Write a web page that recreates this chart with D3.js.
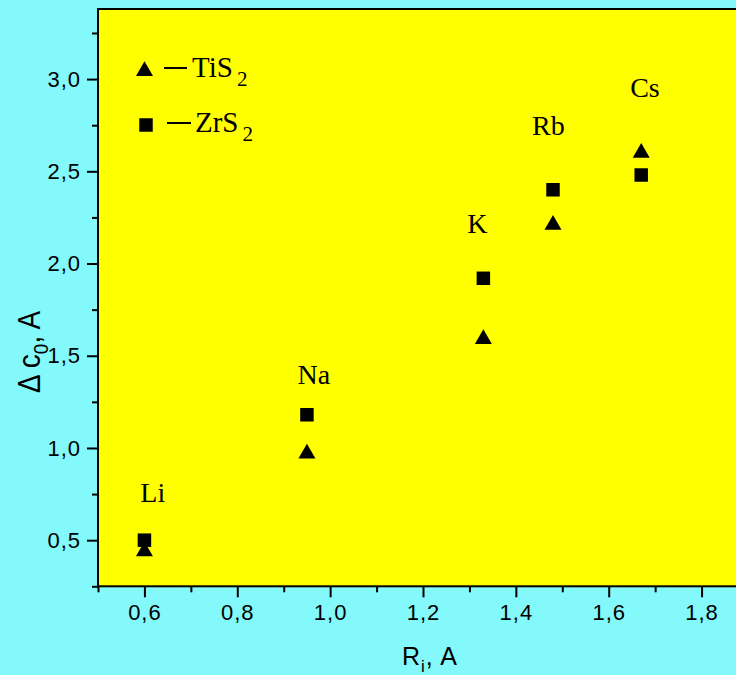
<!DOCTYPE html>
<html>
<head>
<meta charset="utf-8">
<script src="https://cdn.jsdelivr.net/npm/d3@7"></script>
<style>
  html, body { margin: 0; padding: 0; background: #84f9fb; }
  svg { display: block; }
</style>
</head>
<body>
<svg id="chart" width="736" height="675"></svg>
<script>
// Intercalant ionic radius vs. change of the c0 lattice parameter
const elements = ["Li", "Na", "K", "Rb", "Cs"];
const ionRadius = [0.60, 0.95, 1.33, 1.48, 1.67];
const dcTiS2 = [0.44, 0.97, 1.59, 2.21, 2.60];
const dcZrS2 = [0.50, 1.18, 1.92, 2.40, 2.48];
// element label anchors (data units)
const labelX = [0.618, 0.965, 1.317, 1.47, 1.678];
const labelY = [0.707, 1.347, 2.165, 2.696, 2.902];

const xMajor = [0.6, 0.8, 1.0, 1.2, 1.4, 1.6, 1.8];
const xMinor = [0.5, 0.7, 0.9, 1.1, 1.3, 1.5, 1.7];
const yMajor = [0.5, 1.0, 1.5, 2.0, 2.5, 3.0];
const yMinor = [0.25, 0.75, 1.25, 1.75, 2.25, 2.75, 3.25];

const svg = d3.select("#chart");
const W = 736, H = 675;
const plot = { left: 98, top: 9, right: 748, bottom: 586.3 };

svg.append("rect").attr("width", W).attr("height", H).attr("fill", "#84f9fb");

const x = d3.scaleLinear().domain([0.5, 1.9]).range([plot.left, plot.right]);
const y = d3.scaleLinear().domain([0.25, 3.38]).range([plot.bottom, plot.top]);

// plot area
svg.append("rect")
  .attr("x", plot.left).attr("y", plot.top)
  .attr("width", plot.right - plot.left).attr("height", plot.bottom - plot.top)
  .attr("fill", "#ffff00").attr("stroke", "#000").attr("stroke-width", 2);

const comma = d => d3.format(".1f")(d).replace(".", ",");
const sans = "'Liberation Sans', Arial, sans-serif";
const serif = "'Liberation Serif', 'Times New Roman', serif";

// x axis
const gx = svg.append("g").attr("transform", `translate(0,${plot.bottom})`);
gx.call(d3.axisBottom(x).tickValues(xMinor).tickSize(6).tickSizeOuter(0).tickFormat(""));
gx.append("g").call(d3.axisBottom(x).tickValues(xMajor).tickSize(11).tickSizeOuter(0)
  .tickPadding(7).tickFormat(comma));
// y axis
const gy = svg.append("g").attr("transform", `translate(${plot.left},0)`);
gy.call(d3.axisLeft(y).tickValues(yMinor).tickSize(6).tickSizeOuter(0).tickFormat(""));
gy.append("g").call(d3.axisLeft(y).tickValues(yMajor).tickSize(11).tickSizeOuter(0)
  .tickPadding(6).tickFormat(comma));

svg.selectAll(".domain").remove();
svg.selectAll(".tick line").attr("stroke", "#000").attr("stroke-width", 2);
svg.selectAll(".tick text").attr("fill", "#000")
  .style("font-family", sans).style("font-size", "22px").style("letter-spacing", "1px");

// axis titles
const xt = svg.append("text")
  .attr("x", 402).attr("y", 665)
  .style("font-family", sans).style("font-size", "25px").style("letter-spacing", "1px")
  .attr("fill", "#000");
xt.append("tspan").text("R");
xt.append("tspan").attr("dy", 7).style("font-size", "17px").text("i");
xt.append("tspan").attr("dy", -7).text(", A");

const yt = svg.append("g").attr("transform", "translate(40,352) scale(1.1,1) rotate(-90)")
  .append("text").attr("text-anchor", "middle")
  .style("font-family", sans).style("font-size", "28px").attr("fill", "#000");
yt.append("tspan").text("\u0394 c");
yt.append("tspan").attr("dy", 7).style("font-size", "19px").text("0");
yt.append("tspan").attr("dy", -7).text(", A");

// markers
const tri = d3.symbol(d3.symbolTriangle, 125)();
const sq = d3.symbol(d3.symbolSquare, 182)();

svg.append("g").selectAll("path").data(ionRadius).join("path")
  .attr("d", sq)
  .attr("transform", (d, i) => `translate(${x(d)},${y(dcZrS2[i])})`)
  .attr("fill", "#000");
svg.append("g").selectAll("path").data(ionRadius).join("path")
  .attr("d", tri)
  .attr("transform", (d, i) => `translate(${x(d)},${y(dcTiS2[i])})`)
  .attr("fill", "#000");

// element labels
svg.append("g").selectAll("text").data(elements).join("text")
  .attr("x", (d, i) => x(labelX[i]))
  .attr("y", (d, i) => y(labelY[i]))
  .attr("text-anchor", "middle")
  .style("font-family", serif).style("font-size", "28px").attr("fill", "#000")
  .text(d => d);

// legend
const legend = [
  { name: "TiS", sym: tri, cx: 144.5, cy: 71, ly: 68, lx0: 164, lx1: 187, tx: 192, ty: 77 },
  { name: "ZrS", sym: sq, cx: 146, cy: 125, ly: 123, lx0: 167, lx1: 191, tx: 195, ty: 132 }
];
const lg = svg.append("g").selectAll("g").data(legend).join("g");
lg.append("path").attr("d", d => d.sym)
  .attr("transform", d => `translate(${d.cx},${d.cy})`).attr("fill", "#000");
lg.append("line")
  .attr("x1", d => d.lx0).attr("x2", d => d.lx1)
  .attr("y1", d => d.ly).attr("y2", d => d.ly)
  .attr("stroke", "#000").attr("stroke-width", 2);
const lt = lg.append("text")
  .attr("x", d => d.tx).attr("y", d => d.ty)
  .style("font-family", serif).style("font-size", "29px").attr("fill", "#000");
lt.append("tspan").text(d => d.name);
lt.append("tspan").attr("dx", 4).attr("dy", 9).style("font-size", "21px").text("2");
</script>
</body>
</html>
